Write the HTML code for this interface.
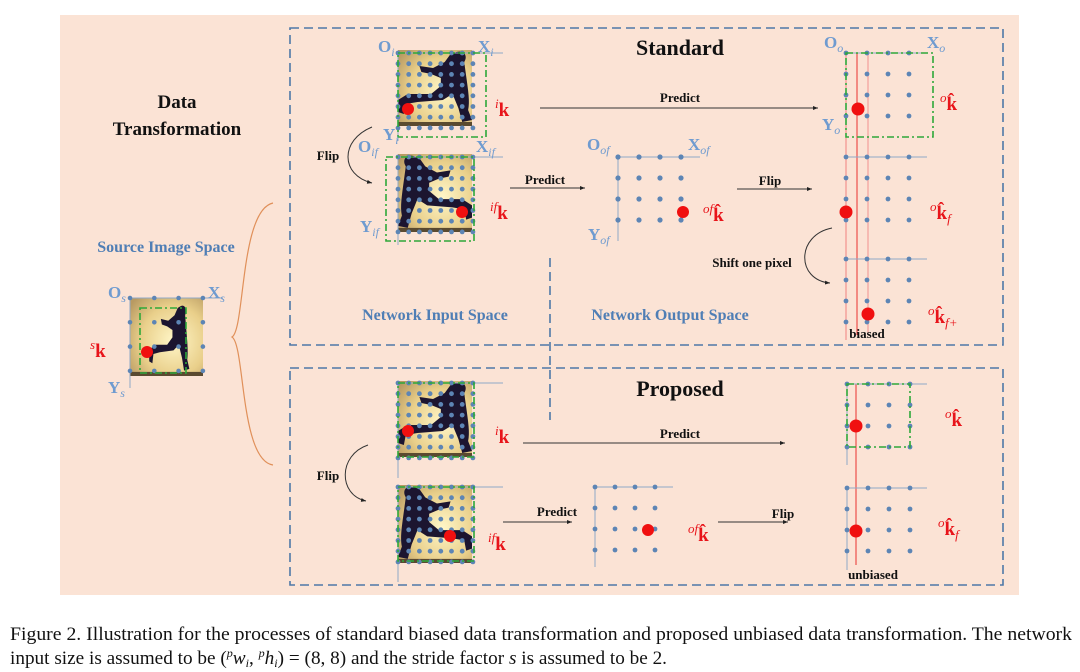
<!DOCTYPE html>
<html><head><meta charset="utf-8"><style>
html,body{margin:0;padding:0;background:#fff;width:1080px;height:672px;overflow:hidden}
svg{display:block}
</style></head><body>
<svg id="s" width="1080" height="672" xmlns="http://www.w3.org/2000/svg" style="position:absolute;left:0;top:0">
<defs>
<radialGradient id="bg" cx="0.6" cy="0.55" r="0.75">
<stop offset="0" stop-color="#fff6c8"/><stop offset="0.6" stop-color="#e9cf8a"/><stop offset="1" stop-color="#b89a62"/>
</radialGradient>
<marker id="ar" markerWidth="6" markerHeight="6" refX="5" refY="3" orient="auto"><path d="M0,1 L5,3 L0,5z" fill="#222"/></marker>
</defs>
<rect x="60" y="15" width="959" height="580" fill="#fbe3d5"/>
<g fill="none" stroke="#4e78a8" stroke-width="1.6" stroke-dasharray="9,5">
<rect x="290" y="28" width="713" height="317"/>
<rect x="290" y="368" width="713" height="217"/>
<line x1="550" y1="258" x2="550" y2="420"/>
</g>
<g id="g"></g>
<g font-family="Liberation Serif,serif" font-weight="bold" fill="#111">
<text x="680" y="55" font-size="22" text-anchor="middle">Standard</text>
<text x="680" y="396" font-size="22" text-anchor="middle">Proposed</text>
<text x="177" y="108" font-size="19" text-anchor="middle">Data</text>
<text x="177" y="135" font-size="19" text-anchor="middle">Transformation</text>
<g font-size="13" text-anchor="middle">
<text x="680" y="102">Predict</text><text x="545" y="184">Predict</text><text x="770" y="185">Flip</text>
<text x="328" y="160">Flip</text><text x="752" y="267">Shift one pixel</text><text x="867" y="338">biased</text>
<text x="680" y="438">Predict</text><text x="557" y="516">Predict</text><text x="783" y="518">Flip</text>
<text x="328" y="480">Flip</text><text x="873" y="579">unbiased</text>
</g>
<g fill="#4f7eb5" font-size="16">
<text x="166" y="252" text-anchor="middle">Source Image Space</text>
<text x="435" y="320" text-anchor="middle">Network Input Space</text>
<text x="670" y="320" text-anchor="middle">Network Output Space</text>
</g>
</g>
<g font-family="Liberation Serif,serif" font-weight="bold" fill="#6f9bd0" font-size="17" id="lab"></g>
<g font-family="Liberation Serif,serif" font-weight="bold" fill="#e8141a" font-size="19" id="red"></g>
<g font-family="Liberation Serif,serif" font-size="19" fill="#111">
<text x="10" y="640" textLength="1062" lengthAdjust="spacingAndGlyphs">Figure 2. Illustration for the processes of standard biased data transformation and proposed unbiased data transformation. The network</text>
<text x="10" y="664" textLength="657" lengthAdjust="spacingAndGlyphs">input size is assumed to be (<tspan font-style="italic" font-size="12" dy="-7">p</tspan><tspan font-style="italic" dy="7">w</tspan><tspan font-style="italic" font-size="12" dy="3">i</tspan><tspan dy="-3">, </tspan><tspan font-style="italic" font-size="12" dy="-7">p</tspan><tspan font-style="italic" dy="7">h</tspan><tspan font-style="italic" font-size="12" dy="3">i</tspan><tspan dy="-3">) = (8, 8) and the stride factor </tspan><tspan font-style="italic">s</tspan> is assumed to be 2.</text>
</g>
</svg>
<script>
var g=document.getElementById('g'),h='';
function runner(x,y,w,hh,flip,small){
 var t=flip?'translate('+(x+w)+','+y+') scale(-1,1)':'translate('+x+','+y+')';
 var sx=w/76,sy=hh/76;
 h+='<rect x="'+x+'" y="'+y+'" width="'+w+'" height="'+hh+'" fill="url(#bg)"/>';
 var inner=small?' translate(20,6) scale(0.55,0.9)':'';
 h+='<g transform="'+t+' scale('+sx+','+sy+')"><g transform="'+inner+'"><path d="M60,2 C68,0 72,6 68,12 L70,26 C72,40 74,52 72,60 L76,70 L66,72 L62,58 L56,44 L46,50 L20,52 L8,54 L6,64 L0,62 L0,50 L10,44 L34,44 L44,36 L44,28 L34,24 L24,22 L22,16 L36,18 L48,12 L54,4 Z" fill="#1c1530"/></g><rect x="0" y="72" width="76" height="4" fill="#5a4a30"/></g>';
}
function grid(x0,y0,n,m,dx,dy,r,c){for(var i=0;i<n;i++)for(var j=0;j<m;j++)h+='<circle cx="'+(x0+i*dx)+'" cy="'+(y0+j*dy)+'" r="'+r+'" fill="'+(c||'#5d85b5')+'"/>';}
function ln(a,b,c,d,col,w,extra){h+='<line x1="'+a+'" y1="'+b+'" x2="'+c+'" y2="'+d+'" stroke="'+col+'" stroke-width="'+(w||1)+'" '+(extra||'')+'/>';}
function grn(x,y,w,hh){h+='<rect x="'+x+'" y="'+y+'" width="'+w+'" height="'+hh+'" fill="none" stroke="#2ea83a" stroke-width="1.6" stroke-dasharray="7,3,2,3"/>';}
function red(x,y,r){h+='<circle cx="'+x+'" cy="'+y+'" r="'+(r||5.5)+'" fill="#f01010"/>';}
function axes(x,y,l1,l2){ln(x,y,x+l1,y,'#8fa8c8',1);ln(x,y,x,y+l2,'#8fa8c8',1);}
function arr(a,y,b){ln(a,y,b,y,'#333',1,'marker-end="url(#ar)"');}
runner(130,298,73,78,false,true);axes(130,298,93,90);grid(130,298,4,4,24.3,24.3,2.3);grn(140,308,46,65);red(147,352,6);
h+='<path d="M273,203 C240,210 245,330 232,337 C245,345 240,460 273,465" fill="none" stroke="#e0905a" stroke-width="1.2"/>';
runner(398,50,74,76,false);axes(398,53,105,88);grid(398,53,8,8,10.7,10.7,2.4);grn(398,53,88,84);red(408,109,6);
runner(398,154,74,78,true);axes(398,157,105,88);grid(398,157,8,8,10.7,10.7,2.4);grn(386,157,88,84);red(462,212,6);
h+='<path d="M372,127 C340,140 340,175 372,183" fill="none" stroke="#333" marker-end="url(#ar)"/>';
arr(540,108,818);arr(510,188,585);arr(737,189,812);
axes(618,157,82,84);grid(618,157,4,4,21,21,2.6);red(683,212,6);
ln(846,53,846,340,'#f08080',1);ln(857,53,857,335,'#e83030',1);ln(868,53,868,335,'#f09090',1);
ln(846,53,927,53,'#8fa8c8');ln(846,157,927,157,'#8fa8c8');ln(846,259,927,259,'#8fa8c8');
grid(846,53,4,4,21,21,2.4);grid(846,157,4,4,21,21,2.4);grid(846,259,4,4,21,21,2.4);
grn(846,53,87,84);red(858,109,6.5);red(846,212,6.5);red(868,314,6.5);
h+='<path d="M832,228 C796,235 796,280 830,283" fill="none" stroke="#333" marker-end="url(#ar)"/>';
runner(398,381,74,76,false);axes(398,383,105,95);grid(398,383,8,8,10.7,10.7,2.4);grn(398,383,76,74);red(408,431,6);
runner(398,485,74,78,true);axes(398,487,105,95);grid(398,487,8,8,10.7,10.7,2.4);grn(398,487,76,74);red(450,536,6);
h+='<path d="M368,445 C338,455 338,495 366,501" fill="none" stroke="#333" marker-end="url(#ar)"/>';
arr(523,443,785);arr(503,522,572);arr(718,522,788);
axes(595,487,78,80);grid(595,487,4,4,20,21,2.4);red(648,530,6);
ln(856,384,856,565,'#e83030',1);ln(847,384,847,465,'#8fa8c8');ln(847,488,847,570,'#8fa8c8');
ln(847,384,927,384,'#8fa8c8');ln(847,488,927,488,'#8fa8c8');
grid(847,384,4,4,21,21,2.4);grid(847,488,4,4,21,21,2.4);grn(847,384,63,63);red(856,426,6.5);red(856,531,6.5);
g.innerHTML=h;
function L(x,y,m,s,sz){return '<text x="'+x+'" y="'+y+'">'+m+'<tspan font-style="italic" font-weight="normal" font-size="'+(sz||12)+'" dy="4">'+s+'</tspan></text>';}
document.getElementById('lab').innerHTML=
L(108,298,'O','s')+L(208,298,'X','s')+L(108,393,'Y','s')+
L(378,52,'O','i')+L(478,52,'X','i')+L(383,140,'Y','i')+
L(358,152,'O','if')+L(476,152,'X','if')+L(360,232,'Y','if')+
L(587,150,'O','of')+L(688,150,'X','of')+L(588,240,'Y','of')+
L(824,48,'O','o')+L(927,48,'X','o')+L(822,130,'Y','o');
function K(x,y,pre,hat,sub){return '<text x="'+x+'" y="'+y+'"><tspan font-style="italic" font-weight="normal" font-size="13" dy="-8">'+pre+'</tspan><tspan dy="8">'+(hat?'k\u0302':'k')+'</tspan>'+(sub?'<tspan font-style="italic" font-weight="normal" font-size="13" dy="4">'+sub+'</tspan>':'')+'</text>';}
document.getElementById('red').innerHTML=
K(90,357,'s',0)+K(495,116,'i',0)+K(490,219,'if',0)+K(703,221,'of',1)+
K(940,110,'o',1)+K(930,219,'o',1,'f')+K(928,323,'o',1,'f+')+
K(495,443,'i',0)+K(488,550,'if',0)+K(688,541,'of',1)+K(945,426,'o',1)+K(938,535,'o',1,'f');
</script>
</body></html>
